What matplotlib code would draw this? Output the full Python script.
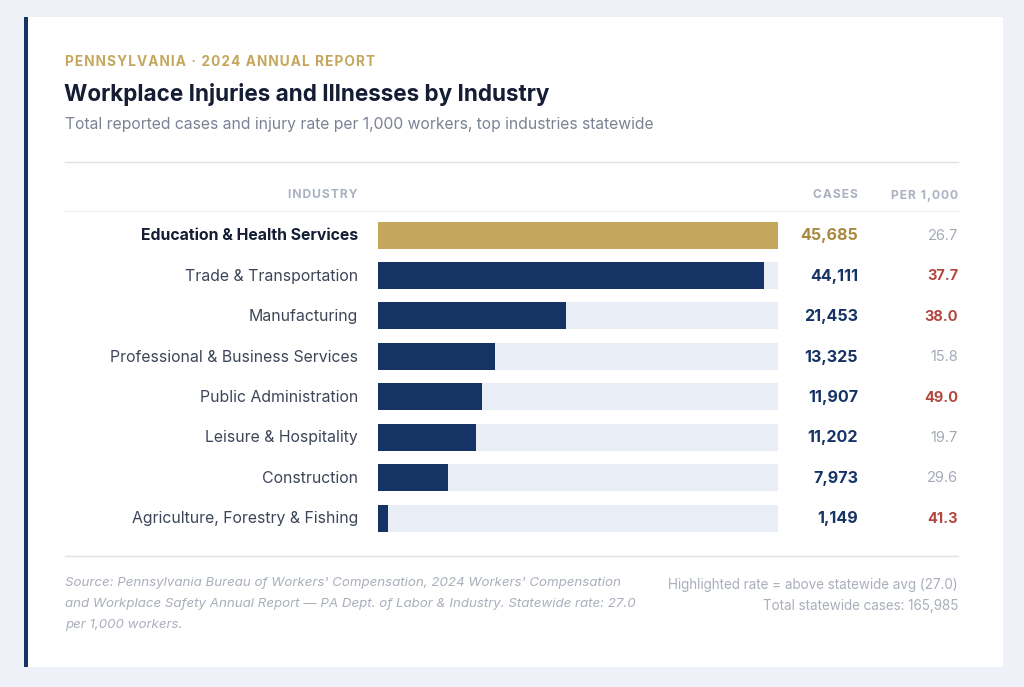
import matplotlib
matplotlib.use("Agg")
import matplotlib.pyplot as plt
from matplotlib.patches import Rectangle
from matplotlib.transforms import blended_transform_factory

industries = ["Education & Health Services", "Trade & Transportation", "Manufacturing",
              "Professional & Business Services", "Public Administration",
              "Leisure & Hospitality", "Construction", "Agriculture, Forestry & Fishing"]
cases = [45685, 44111, 21453, 13325, 11907, 11202, 7973, 1149]
rates = [26.7, 37.7, 38.0, 15.8, 49.0, 19.7, 29.6, 41.3]
rate_highlighted = [False, True, True, False, True, False, False, True]
statewide_rate = 27.0
total_cases = 165985

W, H = 1024, 687
plt.rcParams['font.family'] = ['Inter', 'DejaVu Sans']

fig = plt.figure(figsize=(W / 100, H / 100), dpi=100)
fig.patch.set_facecolor("#eef1f8")

def fx(px):
    return px / W

def fy(py):
    return 1 - py / H

# card
fig.patches.append(Rectangle((fx(24), fy(667)), fx(1003) - fx(24), fy(17) - fy(667),
                             transform=fig.transFigure, facecolor="white", edgecolor="none", zorder=-3))
fig.patches.append(Rectangle((fx(24), fy(667)), fx(28) - fx(24), fy(17) - fy(667),
                             transform=fig.transFigure, facecolor="#163366", edgecolor="none", zorder=-2))

def hline(py, color, lw=1.0):
    fig.lines.append(plt.Line2D([fx(65), fx(958)], [fy(py), fy(py)], transform=fig.transFigure,
                                color=color, lw=lw, zorder=-1))

def spaced(s):
    return "\u200a".join(s)

# header texts
fig.text(fx(65), fy(62.5), spaced("PENNSYLVANIA · 2024 ANNUAL REPORT"), color="#c4a75c",
         fontsize=9.8, fontweight="bold", va="center", ha="left")
fig.text(fx(64), fy(94), "Workplace Injuries and Illnesses by Industry", color="#141d33",
         fontsize=16.2, fontweight="bold", va="center", ha="left")
fig.text(fx(65), fy(124), "Total reported cases and injury rate per 1,000 workers, top industries statewide",
         color="#7a8294", fontsize=11.3, va="center", ha="left")

hline(162, "#dde1e8", 1.0)
hline(211, "#eef0f4", 1.0)
hline(556, "#dde1e8", 1.0)

hdr_kw = dict(color="#aab1bf", fontsize=8.7, fontweight="bold", va="center", ha="right")
fig.text(fx(358), fy(195.5), spaced("INDUSTRY"), **hdr_kw)
fig.text(fx(858), fy(195.5), spaced("CASES"), **hdr_kw)
fig.text(fx(958), fy(195.5), spaced("PER 1,000"), **hdr_kw)

# bar axes
n = len(industries)
row_h = (518 - 235) / (n - 1)
top_px = 235 - row_h / 2
bot_px = 518 + row_h / 2
ax = fig.add_axes([fx(378), fy(bot_px), fx(778) - fx(378), (bot_px - top_px) / H])
ax.set_facecolor("none")
ax.set_xlim(0, max(cases))
ax.set_ylim(n - 0.5, -0.5)
ax.axis("off")

ypos = list(range(n))
bar_h = 27 / row_h
ax.barh(ypos, [max(cases)] * n, height=bar_h, color="#e8edf6", edgecolor="none", zorder=1)
colors = ["#c4a75c"] + ["#163366"] * (n - 1)
ax.barh(ypos, cases, height=bar_h, color=colors, edgecolor="none", zorder=2)

tr = blended_transform_factory(fig.transFigure, ax.transData)
for i, (name, c, r, hl) in enumerate(zip(industries, cases, rates, rate_highlighted)):
    first = i == 0
    ax.text(fx(358), i + 0.02, name, transform=tr, ha="right", va="center",
            fontsize=11.4, color="#141d33" if first else "#3d4658",
            fontweight="bold" if first else "normal", clip_on=False)
    ax.text(fx(858), i + 0.02, f"{c:,}", transform=tr, ha="right", va="center",
            fontsize=11.6, fontweight="bold", color="#a88a3e" if first else "#163366", clip_on=False)
    ax.text(fx(958), i + 0.02, f"{r:.1f}", transform=tr, ha="right", va="center",
            fontsize=10.5, fontweight="bold" if hl else "normal",
            color="#b2473f" if hl else "#a3aab7", clip_on=False)

# footer
src = ["Source: Pennsylvania Bureau of Workers' Compensation, 2024 Workers' Compensation",
       "and Workplace Safety Annual Report \u2014 PA Dept. of Labor & Industry. Statewide rate: 27.0",
       "per 1,000 workers."]
for k, line in enumerate(src):
    fig.text(fx(65), fy(583 + 21 * k), line, color="#a9afbb", fontsize=9.6, style="italic",
             va="center", ha="left")
fig.text(fx(958), fy(585), f"Highlighted rate = above statewide avg ({statewide_rate:.1f})",
         color="#a9afbb", fontsize=9.7, va="center", ha="right")
fig.text(fx(958), fy(606), f"Total statewide cases: {total_cases:,}",
         color="#a9afbb", fontsize=9.7, va="center", ha="right")

fig.savefig("out.png", dpi=100, facecolor=fig.get_facecolor())
